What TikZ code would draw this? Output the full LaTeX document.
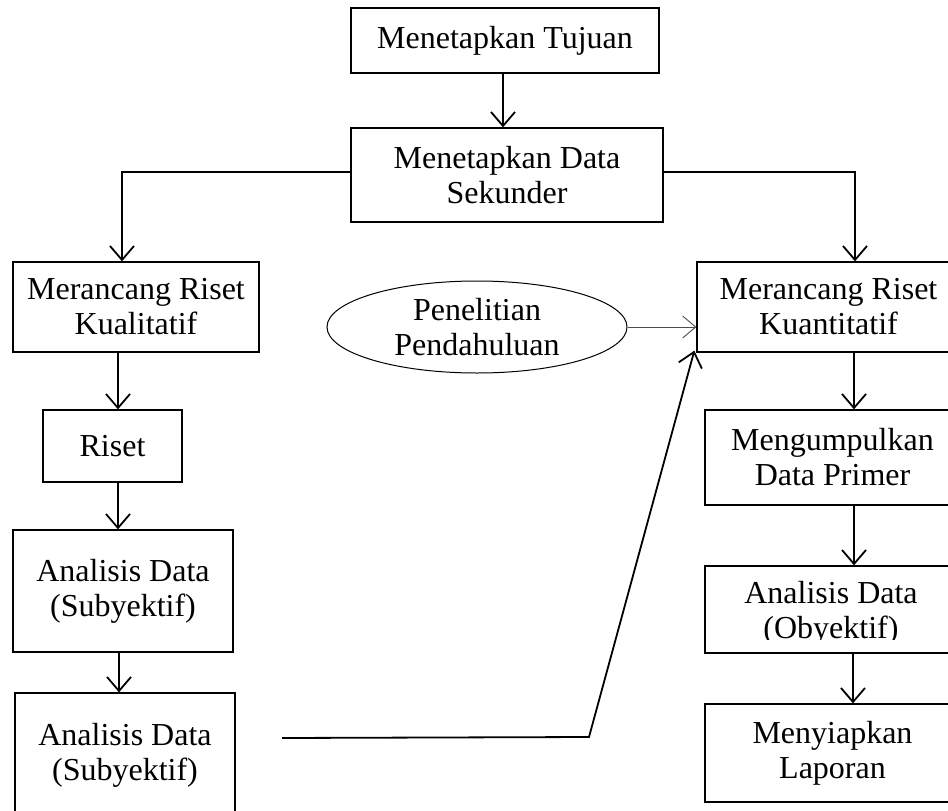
\documentclass[tikz,border=0pt]{standalone}
\usepackage{fontspec}
\setmainfont{Liberation Serif}
\usetikzlibrary{arrows.meta,shapes.geometric}
\begin{document}
\begin{tikzpicture}[x=1pt,y=-1pt,
  box/.style={draw, line width=1.3pt, rectangle, inner sep=0pt, align=center,
    font=\fontsize{32}{35}\selectfont},
  oval/.style={draw, line width=1pt, ellipse, inner sep=0pt, align=center,
    font=\fontsize{32}{35}\selectfont},
  conn/.style={line width=1.8pt, -{Straight Barb[length=14pt,width=24pt,line width=1.8pt]}},
  thickconn/.style={conn, line width=2.4pt},
  thinconn/.style={line width=0.9pt, draw=black!70, -{Straight Barb[length=13pt,width=22pt,line width=0.9pt]}}]
\clip (0,0) rectangle (948,811);
\fill[white] (0,0) rectangle (948,811);
% nodes
\node[box, minimum width=308pt, minimum height=65pt] (tujuan) at (505,40.5) {Menetapkan Tujuan};
\node[box, minimum width=312pt, minimum height=94pt] (sekunder) at (507,175) {Menetapkan Data\\Sekunder};
\node[box, minimum width=246pt, minimum height=90pt] (kual) at (136,307) {Merancang Riset\\Kualitatif};
\node[oval, minimum width=300pt, minimum height=92pt] (pend) at (477,327) {Penelitian\\Pendahuluan};
\node[box, minimum width=263pt, minimum height=90pt] (kuan) at (828.5,307) {Merancang Riset\\Kuantitatif};
\node[box, minimum width=139pt, minimum height=72pt] (riset) at (112.5,446) {Riset};
\node[box, minimum width=220pt, minimum height=122pt] (subA) at (123,591) {Analisis Data\\(Subyektif)};
\node[box, minimum width=220pt, minimum height=124pt] (subB) at (125,755) {Analisis Data\\(Subyektif)};
\node[box, minimum width=255pt, minimum height=95pt] (primer) at (832.5,457.5) {Mengumpulkan\\Data Primer};
\node[box, minimum width=255pt, minimum height=87pt] (obyek) at (832.5,609.5) {};
\begin{scope}
  \clip (705,566) rectangle (960,639);
  \node[align=center, inner sep=0pt, font=\fontsize{32}{35}\selectfont] (obyektxt) at (831,613) {Analisis Data\\(Obyektif)};
\end{scope}
\node[box, minimum width=255pt, minimum height=98pt] (lapor) at (832.5,753) {Menyiapkan\\Laporan};
% column coordinates
\coordinate (cL) at (118,0);
\coordinate (cR) at (854,0);
\coordinate (hTop) at (0,172);
\coordinate (start) at (282,738);
\coordinate (bend) at (589,737);
% connectors
\draw[thickconn] (tujuan.south -| 503,0) -- (sekunder.north -| 503,0);
\draw[conn] (sekunder.west |- hTop) -| ([xshift=4pt]kual.north -| cL);
\draw[conn] (sekunder.east |- hTop) -| ([xshift=1pt]kuan.north -| cR);
\draw[conn] (kual.south -| cL) -- (riset.north -| cL);
\draw[conn] (riset.south -| cL) -- (subA.north -| cL);
\draw[conn] ([xshift=1pt]subA.south -| cL) -- ([xshift=1pt]subB.north -| cL);
\draw[thinconn] (pend.east) -- (kuan.west |- pend.east);
\draw[conn] (start) -- (bend) -- ([xshift=-2pt,yshift=2pt]kuan.south west);
\draw[conn] (kuan.south -| cR) -- (primer.north -| cR);
\draw[conn] (primer.south -| cR) -- (obyek.north -| cR);
\draw[conn] ([xshift=-1pt]obyek.south -| cR) -- ([xshift=-1pt]lapor.north -| cR);
\end{tikzpicture}
\end{document}
